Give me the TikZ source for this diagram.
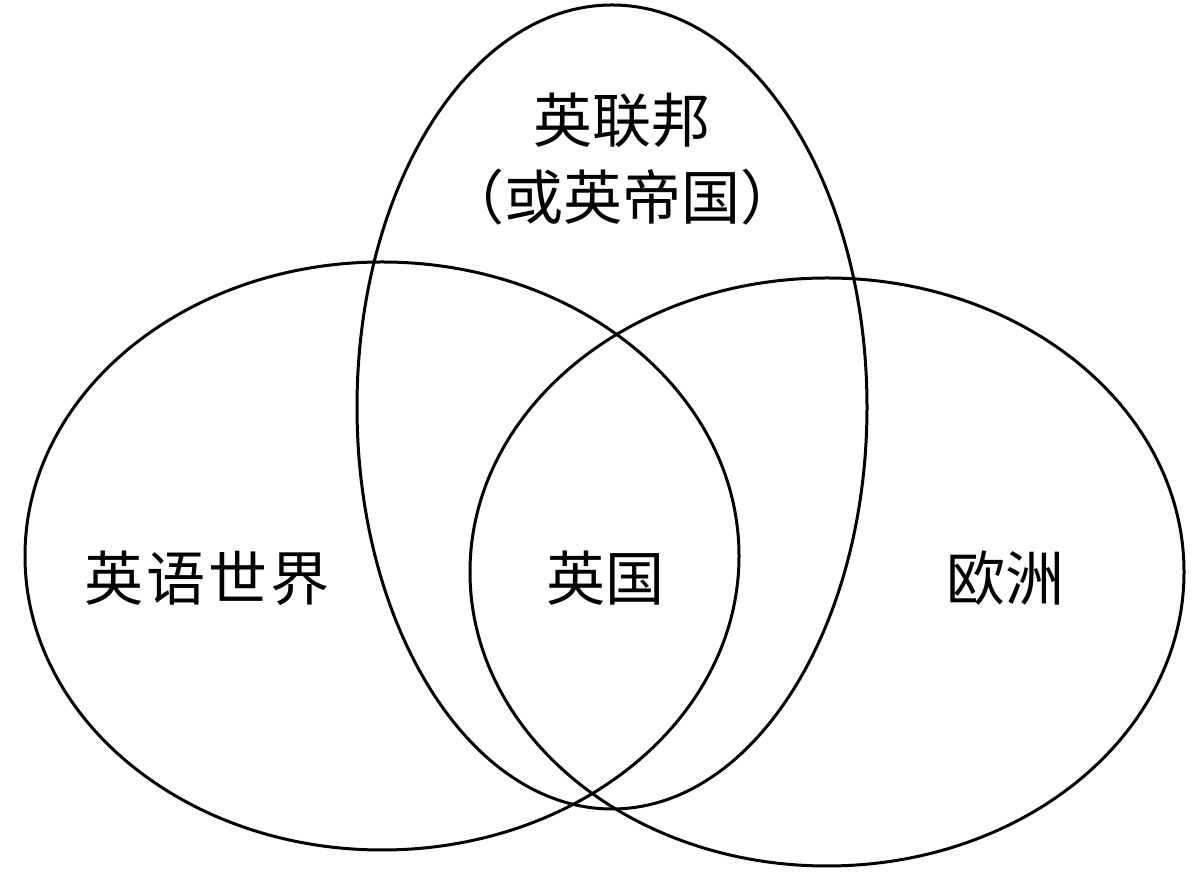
\documentclass[tikz,border=0pt]{standalone}
\usepackage{fontspec}
\newfontfamily\cjk{Noto Sans CJK SC}
\begin{document}
\begin{tikzpicture}[x=1pt,y=1pt,
  ring/.style={draw=black,line width=3pt},
  lbl/.style={font=\cjk\fontsize{59}{70}\selectfont,inner sep=0pt,align=center}]
\useasboundingbox (0,0) rectangle (1204,877);
\draw[ring] (382,321) ellipse [x radius=357, y radius=294];
\draw[ring] (612,470) ellipse [x radius=255, y radius=402];
\draw[ring] (827,305) ellipse [x radius=357, y radius=294];
\node[lbl] (c1) at (622,757) {英联邦};
\node[lbl] (c2) at (622,680) {（或英帝国）};
\node[lbl] (ew) at (207,299) {英\hspace{3pt}语\hspace{3pt}世\hspace{3pt}界};
\node[lbl] (uk) at (605,299) {英国};
\node[lbl] (eu) at (1005,299) {欧洲};
\end{tikzpicture}
\end{document}
